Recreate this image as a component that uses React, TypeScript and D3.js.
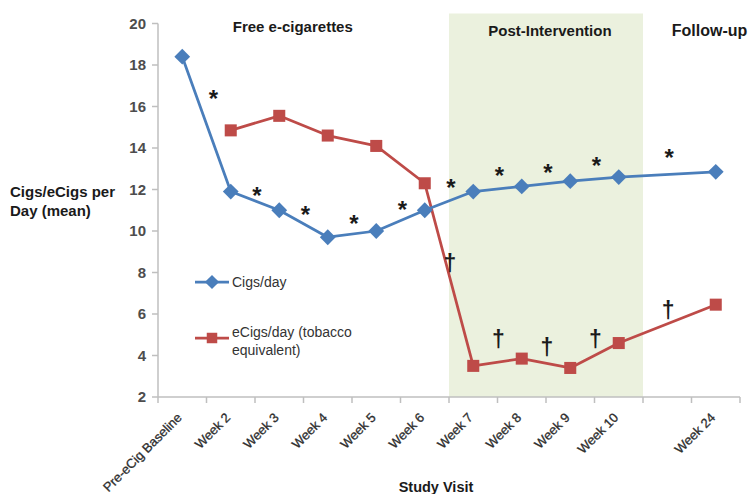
import { useEffect, useRef } from 'react';
import * as d3 from 'd3';

const visits = ['Pre-eCig Baseline', 'Week 2', 'Week 3', 'Week 4', 'Week 5', 'Week 6', 'Week 7', 'Week 8', 'Week 9', 'Week 10', '', 'Week 24'];
const cigsPerDay: (number | null)[] = [18.4, 11.9, 11.0, 9.7, 10.0, 11.0, 11.9, 12.15, 12.4, 12.6, null, 12.85];
const ecigsPerDay: (number | null)[] = [null, 14.85, 15.55, 14.6, 14.1, 12.3, 3.5, 3.85, 3.4, 4.6, null, 6.45];
const yTicks = [2, 4, 6, 8, 10, 12, 14, 16, 18, 20];

// significance marks: placed between two visits, at a given height (value units)
const asterisks: [string, string, number][] = [
  ['Pre-eCig Baseline', 'Week 2', 16.5],
  ['Week 2', 'Week 3', 11.85],
  ['Week 3', 'Week 4', 10.9],
  ['Week 4', 'Week 5', 10.5],
  ['Week 5', 'Week 6', 11.15],
  ['Week 6', 'Week 7', 12.2],
  ['Week 7', 'Week 8', 12.8],
  ['Week 8', 'Week 9', 12.95],
  ['Week 9', 'Week 10', 13.3],
  ['Week 10', 'Week 24', 13.65],
];
const daggers: [string, string, number][] = [
  ['Week 6', 'Week 7', 8.5],
  ['Week 7', 'Week 8', 4.85],
  ['Week 8', 'Week 9', 4.45],
  ['Week 9', 'Week 10', 4.85],
  ['Week 10', 'Week 24', 6.25],
];
const phaseLabels = ['Free e-cigarettes', 'Post-Intervention', 'Follow-up'];
const phaseAnchors = ['Week 2', 'Week 7', 'Week 24'];

const BLUE = '#4a7ebb';
const RED = '#be4b48';
const FONT = '"Liberation Sans", Arial, sans-serif';

export default function App() {
  const svgRef = useRef<SVGSVGElement>(null);
  const width = 748;
  const height = 494;

  useEffect(() => {
    if (!svgRef.current) return;
    const svg = d3.select(svgRef.current);
    svg.selectAll('*').remove();

    const x = d3.scaleBand().domain(visits).range([158, 740]).paddingInner(0).paddingOuter(0);
    const cx = (v: string) => (x(v) as number) + x.bandwidth() / 2;
    const y = d3.scaleLinear().domain([2, 20]).range([397, 23.5]);

    // shaded post-intervention block
    svg.append('rect')
      .attr('x', x('Week 7')!)
      .attr('y', y(20) - 10)
      .attr('width', (x('Week 10')! + x.bandwidth()) - x('Week 7')!)
      .attr('height', y(2) - y(20) + 10)
      .attr('fill', '#ebf1de');

    // axes
    const axisColor = '#bfbfbf';
    svg.append('line').attr('x1', 158).attr('x2', 158).attr('y1', y(20)).attr('y2', y(2))
      .attr('stroke', axisColor).attr('stroke-width', 1.5);
    svg.append('line').attr('x1', 158).attr('x2', 740).attr('y1', y(2)).attr('y2', y(2))
      .attr('stroke', axisColor).attr('stroke-width', 1.5);

    svg.selectAll('.ytick').data(yTicks).enter().append('line')
      .attr('x1', 152).attr('x2', 158)
      .attr('y1', d => y(d)).attr('y2', d => y(d))
      .attr('stroke', axisColor).attr('stroke-width', 1.5);
    svg.selectAll('.ylab').data(yTicks).enter().append('text')
      .attr('x', 146).attr('y', d => y(d) + 5)
      .attr('text-anchor', 'end')
      .style('font-family', FONT).style('font-size', '15px').style('font-weight', 'bold')
      .style('fill', '#4d4d4d')
      .text(d => d);

    const bounds = visits.map(v => x(v)!).concat([x(visits[visits.length - 1])! + x.bandwidth()]);
    svg.selectAll('.xtick').data(bounds).enter().append('line')
      .attr('x1', d => d).attr('x2', d => d)
      .attr('y1', y(2)).attr('y2', y(2) + 6)
      .attr('stroke', axisColor).attr('stroke-width', 1.5);

    svg.selectAll('.xlab').data(visits.filter(v => v !== '')).enter().append('text')
      .attr('transform', d => `translate(${cx(d) - 6},${y(2) + 15}) rotate(-45)`)
      .attr('text-anchor', 'end')
      .attr('dy', '0.7em')
      .style('font-family', FONT).style('font-size', '13px')
      .style('fill', '#2e2e2e').style('stroke', '#2e2e2e').style('stroke-width', '0.3px')
      .text(d => d);

    // axis titles
    const title = svg.append('text')
      .style('font-family', FONT).style('font-size', '15px').style('font-weight', 'bold').style('fill', '#1a1a1a');
    title.append('tspan').attr('x', 10).attr('y', 197).text('Cigs/eCigs per');
    title.append('tspan').attr('x', 10).attr('y', 216).text('Day (mean)');

    svg.append('text').attr('x', 436).attr('y', 492).attr('text-anchor', 'middle')
      .style('font-family', FONT).style('font-size', '14.5px').style('font-weight', 'bold').style('fill', '#1a1a1a')
      .text('Study Visit');

    // phase headers
    const phaseShift = [2, 15, -44];
    const phaseBase = [32, 36, 36];
    const phaseSize = [15, 15, 16];
    phaseLabels.forEach((label, i) => {
      svg.append('text')
        .attr('x', cx(phaseAnchors[i]) + phaseShift[i])
        .attr('y', phaseBase[i])
        .style('font-family', FONT).style('font-size', `${phaseSize[i]}px`).style('font-weight', 'bold').style('fill', '#1a1a1a')
        .text(label);
    });

    const drawSeries = (vals: (number | null)[], color: string, shape: 'diamond' | 'square') => {
      const pts = visits.map((v, i) => ({ v, val: vals[i] })).filter(p => p.val !== null) as { v: string; val: number }[];
      const line = d3.line<{ v: string; val: number }>().x(p => cx(p.v)).y(p => y(p.val));
      svg.append('path').attr('d', line(pts)!).attr('fill', 'none')
        .attr('stroke', color).attr('stroke-width', 2.75).attr('stroke-linejoin', 'round');
      const sym = d3.symbol().type(d3.symbolSquare).size(shape === 'diamond' ? 125 : 145);
      svg.selectAll(`.m-${shape}`).data(pts).enter().append('path')
        .attr('d', sym()!)
        .attr('transform', p => `translate(${cx(p.v)},${y(p.val)})${shape === 'diamond' ? ' rotate(45)' : ''}`)
        .attr('fill', color);
    };
    drawSeries(ecigsPerDay, RED, 'square');
    drawSeries(cigsPerDay, BLUE, 'diamond');

    const mid = (a: string, b: string) => (cx(a) + cx(b)) / 2;
    svg.selectAll('.ast').data(asterisks).enter().append('text')
      .attr('x', (d, i) => mid(d[0], d[1]) + (i === 0 ? 7 : 2))
      .attr('y', d => y(d[2]) + 11)
      .attr('text-anchor', 'middle')
      .style('font-family', FONT).style('font-size', '24px').style('font-weight', 'bold').style('fill', '#1a1a1a')
      .text('*');
    svg.selectAll('.dag').data(daggers).enter().append('text')
      .attr('x', d => mid(d[0], d[1]) + 1)
      .attr('y', d => y(d[2]) + 9)
      .attr('text-anchor', 'middle')
      .style('font-family', FONT).style('font-size', '23px').style('font-weight', 'bold').style('fill', '#1a1a1a')
      .text('†');

    // legend
    const legend = svg.append('g');
    const items = [
      { color: BLUE, shape: 'diamond', lines: ['Cigs/day'], yy: 282 },
      { color: RED, shape: 'square', lines: ['eCigs/day (tobacco', 'equivalent)'], yy: 338 },
    ];
    items.forEach(it => {
      legend.append('line').attr('x1', 195).attr('x2', 229).attr('y1', it.yy).attr('y2', it.yy)
        .attr('stroke', it.color).attr('stroke-width', 2.75);
      legend.append('path')
        .attr('d', d3.symbol().type(d3.symbolSquare).size(it.shape === 'diamond' ? 100 : 110)()!)
        .attr('transform', `translate(212,${it.yy})${it.shape === 'diamond' ? ' rotate(45)' : ''}`)
        .attr('fill', it.color);
      const t = legend.append('text')
        .style('font-family', FONT).style('font-size', '14px').style('fill', '#333');
      it.lines.forEach((l, i) => {
        t.append('tspan').attr('x', 232).attr('y', it.yy + (it.lines.length > 1 ? -1 : 5) + i * 18).text(l);
      });
    });
  }, []);

  return (
    <svg ref={svgRef} width={width} height={height}
      style={{ position: 'absolute', left: 0, top: 0, background: '#fff' }} />
  );
}
